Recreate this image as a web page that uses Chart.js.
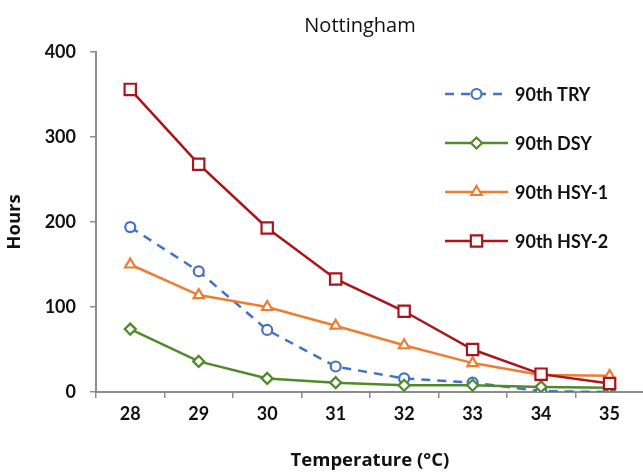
<!DOCTYPE html>
<html>
<head>
<meta charset="utf-8">
<script src="https://cdn.jsdelivr.net/npm/chart.js@4/dist/chart.umd.min.js"></script>
<style>
html,body{margin:0;padding:0;background:#fff;overflow:hidden;}
#wrap{width:643px;height:473px;position:relative;overflow:hidden;}
#c{position:absolute;left:0;top:0;}
</style>
</head>
<body>
<div id="wrap"><canvas id="c" width="654" height="473"></canvas></div>
<script>
const categories = ['28','29','30','31','32','33','34','35'];
const seriesNames = ['90th TRY','90th DSY','90th HSY-1','90th HSY-2'];
const tryValues  = [194, 142, 73, 30, 16, 11, 1, 0];
const dsyValues  = [74, 36, 16, 11, 8, 8, 6, 5];
const hsy1Values = [150, 114, 100, 78, 55, 34, 20, 19];
const hsy2Values = [356, 268, 193, 133, 95, 50, 21, 10];
const yTicks = [0, 100, 200, 300, 400];

const FONT = 'Lato, "Open Sans", "Liberation Sans", sans-serif';
const TFONT = '"Open Sans", Lato, "Liberation Sans", sans-serif';
const AXIS = '#8c8c8c';

const datasets = [
  {label: seriesNames[0], data: tryValues, borderColor:'#4472C4', backgroundColor:'#ffffff',
   borderDash:[9,7], pointStyle:'circle', pointRadius:5, order:3},
  {label: seriesNames[1], data: dsyValues, borderColor:'#4F8A2B', backgroundColor:'#ffffff',
   pointStyle:'rectRot', pointRadius:5.5, order:2},
  {label: seriesNames[2], data: hsy1Values, borderColor:'#ED7D31', backgroundColor:'#ffffff',
   pointStyle:'triangle', pointRadius:6, order:1},
  {label: seriesNames[3], data: hsy2Values, borderColor:'#A8161C', backgroundColor:'#ffffff',
   pointStyle:'rect', pointRadius:8, order:0}
].map(d => Object.assign({
  borderWidth:2.5, pointBorderWidth:2.2, pointBackgroundColor:'#ffffff',
  pointBorderColor:d.borderColor, tension:0, fill:false
}, d));

const overlay = {
  id:'overlay',
  afterDraw(chart){
    const ctx = chart.ctx;
    ctx.save();
    ctx.fillStyle = '#111';
    ctx.font = '20px ' + TFONT;
    ctx.textAlign = 'center';
    ctx.textBaseline = 'middle';
    ctx.fillText('Nottingham', 360, 26);
    const x0 = 445, x1 = 508, tx = 515;
    const rows = [94, 143, 192, 241];
    chart.data.datasets.forEach((ds, i) => {
      const y = rows[i];
      ctx.save();
      ctx.strokeStyle = ds.borderColor;
      ctx.lineWidth = ds.borderWidth;
      ctx.setLineDash(ds.borderDash || []);
      ctx.beginPath(); ctx.moveTo(x0, y); ctx.lineTo(x1, y); ctx.stroke();
      ctx.restore();
      ctx.save();
      ctx.strokeStyle = ds.borderColor;
      ctx.fillStyle = '#ffffff';
      ctx.lineWidth = ds.pointBorderWidth;
      Chart.helpers.drawPoint(ctx, {pointStyle: ds.pointStyle, radius: ds.pointRadius, rotation:0, borderWidth: ds.pointBorderWidth}, (x0+x1)/2, y);
      ctx.restore();
      ctx.fillStyle = '#111';
      ctx.font = 'bold 18px ' + FONT;
      ctx.textAlign = 'left';
      ctx.textBaseline = 'middle';
      ctx.fillText(ds.label, tx, y + 1);
    });
    ctx.restore();
  }
};

new Chart(document.getElementById('c'), {
  type:'line',
  data:{labels:categories, datasets},
  plugins:[overlay],
  options:{
    responsive:false, animation:false,
    layout:{padding:{top:52, right:0, left:0, bottom:0}},
    plugins:{legend:{display:false}, title:{display:false}, tooltip:{enabled:false}},
    scales:{
      x:{
        offset:true,
        grid:{offset:true, drawOnChartArea:false, drawTicks:true, tickLength:6, color:AXIS, lineWidth:1.5},
        border:{color:AXIS, width:2},
        ticks:{color:'#111', font:{family:FONT, size:18, weight:'bold'}, padding:5, maxRotation:0},
        title:{display:true, text:'Temperature (°C)', color:'#111', font:{family:TFONT, size:18.5, weight:'bold'}, padding:{top:4, bottom:1}},
        afterFit(s){ s.height = 81; }
      },
      y:{
        min:0, max:400,
        afterBuildTicks(s){ s.ticks = yTicks.map(v => ({value:v})); },
        grid:{drawOnChartArea:false, drawTicks:true, tickLength:6, color:AXIS, lineWidth:1.5},
        border:{color:AXIS, width:2},
        ticks:{color:'#111', font:{family:FONT, size:18, weight:'bold'}, padding:14},
        title:{display:true, text:'Hours', color:'#111', font:{family:TFONT, size:18.5, weight:'bold'}, padding:{top:4, bottom:0}},
        afterFit(s){ s.width = 96; }
      }
    }
  }
});
</script>
</body>
</html>
